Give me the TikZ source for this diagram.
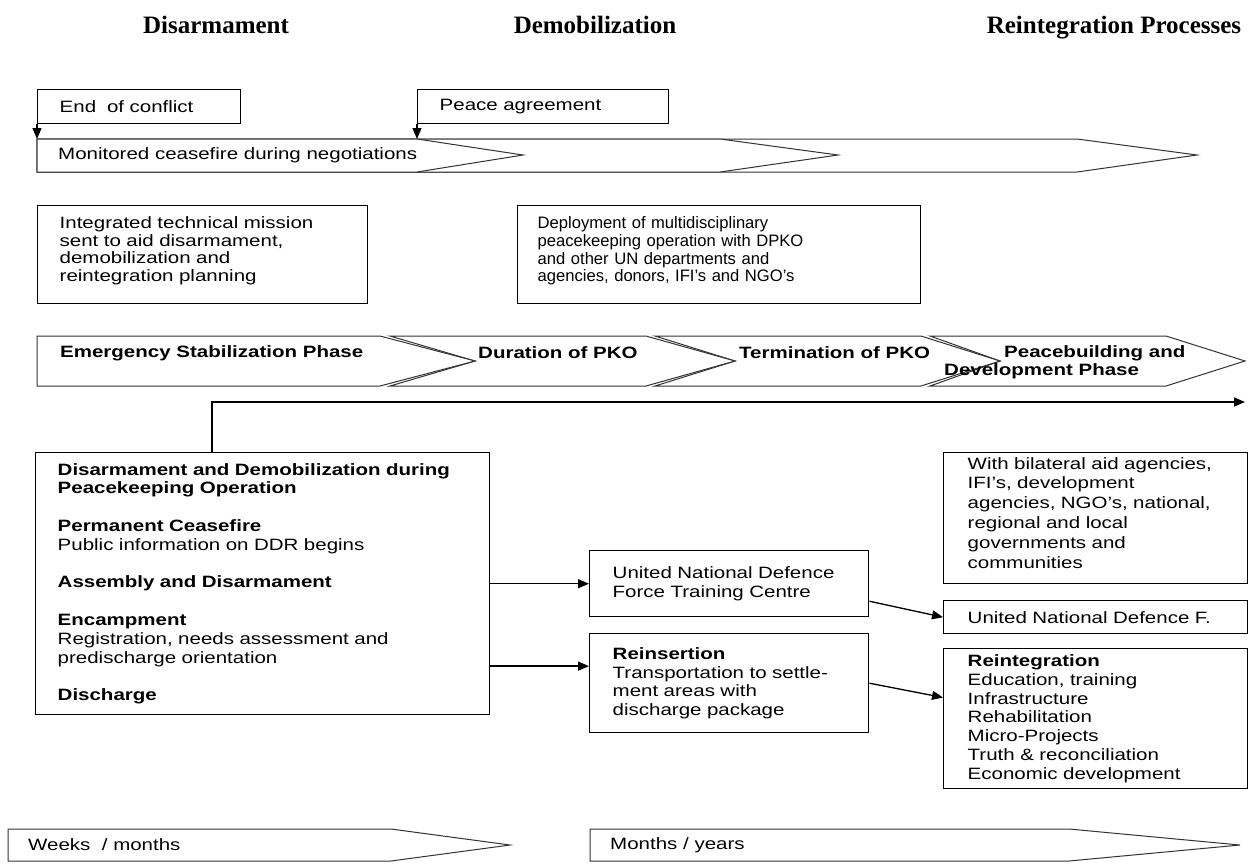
\documentclass[tikz,border=0pt]{standalone}
\usepackage{fontspec}
\setmainfont{Liberation Sans}[FakeStretch=1.25]
\newfontfamily\plainsans{Liberation Sans}[Ligatures=TeX]
\newfontfamily\hdrfont{Liberation Serif}
\usetikzlibrary{arrows.meta,calc}
\newcommand{\bodyfnt}{\fontsize{16.4}{18.8}\selectfont}
\newcommand{\tightfnt}{\fontsize{16.4}{17.7}\selectfont}
\newcommand{\plainfnt}{\plainsans\fontsize{16.6}{17.7}\selectfont}
\newcommand{\lift}{\rule[-11pt]{0pt}{11pt}}
\begin{document}
\begin{tikzpicture}[x=1pt,y=-1pt,
  box/.style={draw, line width=1.4pt, inner xsep=22pt, inner ysep=0pt, align=left,
              font=\bodyfnt, anchor=north west},
  chev/.style={draw=black!80, line width=1pt, fill=white},
  lbl/.style={font=\bodyfnt, inner sep=0pt, anchor=west, align=left},
  blbl/.style={font=\bodyfnt\bfseries, inner sep=0pt, anchor=west, align=left},
  hdr/.style={font=\hdrfont\fontsize{25}{28}\selectfont\bfseries, inner sep=0pt, anchor=base},
  arr/.style={line width=1.3pt, -{Triangle[length=11pt,width=9pt]}}]
\useasboundingbox (0,0) rectangle (1250,863);
\fill[white] (0,0) rectangle (1250,863);

% headers
\node[hdr] (h1) at (216,33) {Disarmament};
\node[hdr] (h2) at (595,33) {Demobilization};
\node[hdr] (h3) at (1114,33) {Reintegration Processes};

% top boxes
\node[box, minimum width=203pt, minimum height=34pt, text width=159pt] (end) at (37,89) {End\ \ of conflict};
\node[box, minimum width=251pt, minimum height=34pt, text width=207pt] (peace) at (417,89) {Peace agreement};

% ceasefire chevrons
\draw[chev] (37,139) -- (1077,139) -- (1197,155) -- (1077,172) -- (37,172) -- cycle;
\draw[chev] (37,139) -- (720,139) -- (838,155) -- (720,172) -- (37,172) -- cycle;
\draw[chev] (37,139) -- (417,139) -- (523,155) -- (417,172) -- (37,172) -- cycle;
\node[lbl] (cf) at (58,155) {Monitored ceasefire during negotiations};
\coordinate (cfa) at (37,139);
\coordinate (cfb) at (417,139);
\draw[arr] (end.south west) -- (cfa);
\draw[arr] (peace.south west) -- (cfb);

% mission boxes
\node[box, font=\tightfnt, minimum width=330pt, minimum height=98pt, text width=286pt] (itm) at (37,205)
  {Integrated technical mission\\sent to aid disarmament,\\demobilization and\\reintegration planning\lift};
\node[box, font=\plainfnt, inner xsep=20pt, minimum width=403pt, minimum height=98pt, text width=363pt] (dep) at (517,205)
  {Deployment of multidisciplinary\\peacekeeping operation with DPKO\\and other UN departments and\\agencies, donors, IFI's and NGO's\lift};

% phase chevrons
\draw[chev] (930,336) -- (1166,336) -- (1245,361) -- (1166,386) -- (930,386) -- (1000,361) -- cycle;
\draw[chev] (655,336) -- (921,336) -- (1000,361) -- (921,386) -- (655,386) -- (735,361) -- cycle;
\draw[chev] (390,336) -- (646,336) -- (735,361) -- (646,386) -- (390,386) -- (475,361) -- cycle;
\draw[chev] (37,336) -- (380,336) -- (475,361) -- (380,386) -- (37,386) -- cycle;
\node[blbl] (pa) at (60,353) {Emergency Stabilization Phase};
\node[blbl] (pb) at (478,353) {Duration of PKO};
\node[blbl] (pc) at (739,353) {Termination of PKO};
\node[blbl, anchor=north west] (pd) at (944,345) {\hspace*{60pt}Peacebuilding and\\Development Phase};

% main box
\node[box, minimum width=454pt, minimum height=262pt, text width=410pt] (main) at (35,452)
  {\textbf{Disarmament and Demobilization during}\\
   \textbf{Peacekeeping Operation}\\[18.8pt]
   \textbf{Permanent Ceasefire}\\
   Public information on DDR begins\\[18.8pt]
   \textbf{Assembly and Disarmament}\\[18.8pt]
   \textbf{Encampment}\\
   Registration, needs assessment and\\
   predischarge orientation\\[18.8pt]
   \textbf{Discharge}};

% timeline arrow
\coordinate (hl) at (212,402);
\coordinate (hr) at (1245,402);
\draw[arr] (hl |- main.north) -- (hl) -- (hr);

% middle column
\node[box, minimum width=279pt, minimum height=66pt, text width=233pt, inner xsep=23pt] (undf) at (589,550)
  {United National Defence\\Force Training Centre};
\node[box, minimum width=279pt, minimum height=99pt, text width=233pt, inner xsep=23pt] (reins) at (589,633)
  {\textbf{Reinsertion}\\Transportation to settle-\\ment areas with\\discharge package};

% right column
\node[box, font=\fontsize{16.4}{19.8}\selectfont, minimum width=304pt, minimum height=131pt, text width=256pt, inner xsep=24pt] (bil) at (943,452)
  {With bilateral aid agencies,\\IFI's, development\\agencies, NGO's, national,\\regional and local\\governments and\\communities\lift};
\node[box, minimum width=304pt, minimum height=33pt, text width=256pt, inner xsep=24pt] (undff) at (943,600)
  {United National Defence F.};
\node[box, minimum width=304pt, minimum height=140pt, text width=256pt, inner xsep=24pt] (reint) at (943,648)
  {\textbf{Reintegration}\\Education, training\\Infrastructure\\Rehabilitation\\Micro-Projects\\Truth \& reconciliation\\Economic development};

% connectors
\coordinate (a2) at ($(reins.north west)!0.33!(reins.south west)$);
\draw[arr] (main.east |- undf.west) -- (undf.west);
\draw[arr] (main.east |- a2) -- (a2);
\coordinate (d1) at ($(undf.north east)!0.76!(undf.south east)$);
\coordinate (d2) at ($(reint.north west)!0.35!(reint.south west)$);
\draw[arr] (d1) -- (undff.west);
\draw[arr] (reins.east) -- (d2);

% bottom chevrons
\draw[chev] (8,829) -- (391,829) -- (510,845) -- (391,861) -- (8,861) -- cycle;
\draw[chev] (590,829) -- (1069,829) -- (1240,845) -- (1069,861) -- (590,861) -- cycle;
\node[lbl] (wk) at (28,845) {Weeks\ \ / months};
\node[lbl] (my) at (610,845) {Months / years};
\end{tikzpicture}
\end{document}
